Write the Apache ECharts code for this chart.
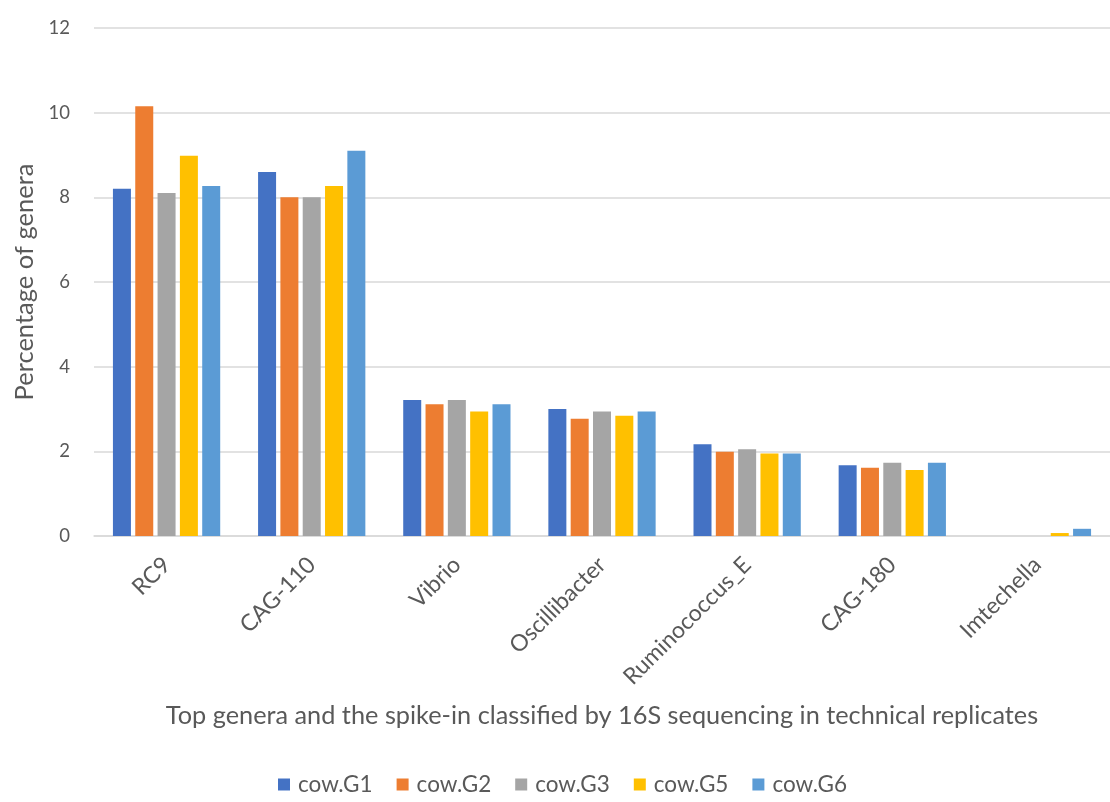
<!DOCTYPE html>
<html>
<head>
<meta charset="utf-8">
<script src="https://cdn.jsdelivr.net/npm/echarts@6/dist/echarts.min.js"></script>
<style>
  html, body { margin: 0; padding: 0; background: #ffffff; }
  #chart { width: 1110px; height: 802px; }
</style>
</head>
<body>
<div id="chart"></div>
<script>
// Genus names along the x axis
const genera = ['RC9', 'CAG-110', 'Vibrio', 'Oscillibacter', 'Ruminococcus_E', 'CAG-180', 'Imtechella'];

// Percentage of genera per technical replicate
const cowG1 = [8.2, 8.6, 3.21, 3.0, 2.17, 1.67, 0];
const cowG2 = [10.15, 8.0, 3.11, 2.77, 1.99, 1.61, 0];
const cowG3 = [8.1, 8.0, 3.21, 2.94, 2.05, 1.73, 0];
const cowG5 = [8.98, 8.27, 2.94, 2.84, 1.95, 1.56, 0.07];
const cowG6 = [8.27, 9.1, 3.11, 2.94, 1.95, 1.73, 0.17];

const seriesNames = ['cow.G1', 'cow.G2', 'cow.G3', 'cow.G5', 'cow.G6'];
const seriesValues = [cowG1, cowG2, cowG3, cowG5, cowG6];
const palette = ['#4472C4', '#ED7D31', '#A5A5A5', '#FFC000', '#5B9BD5'];

const fontFamily = 'Lato, "Open Sans", sans-serif';
const textColor = '#595959';

const chart = echarts.init(document.getElementById('chart'), null, { renderer: 'canvas' });

chart.setOption({
  animation: false,
  color: palette,
  textStyle: { fontFamily: fontFamily },
  grid: { left: 94, right: -7, top: 28, bottom: 266, containLabel: false },
  legend: {
    bottom: 1,
    left: 273,
    itemWidth: 12,
    itemHeight: 12,
    itemGap: 24,
    icon: 'rect',
    textStyle: { color: textColor, fontSize: 22.5, fontFamily: fontFamily, padding: [0, 0, 0, 3] },
    data: seriesNames
  },
  xAxis: {
    type: 'category',
    data: genera,
    name: 'Top genera and the spike-in classified by 16S sequencing in technical replicates',
    nameLocation: 'middle',
    nameGap: 167,
    nameTextStyle: { color: textColor, fontSize: 25.3, fontFamily: fontFamily },
    axisLine: { lineStyle: { color: '#d9d9d9', width: 1.5 } },
    axisTick: { show: false },
    axisLabel: {
      rotate: 45,
      interval: 0,
      color: textColor,
      fontSize: 23,
      margin: 25,
      fontFamily: fontFamily
    }
  },
  yAxis: {
    type: 'value',
    min: 0,
    max: 12,
    interval: 2,
    name: 'Percentage of genera',
    nameLocation: 'middle',
    nameGap: 51,
    nameTextStyle: { color: textColor, fontSize: 25.5, fontFamily: fontFamily },
    axisLine: { show: false },
    axisTick: { show: false },
    axisLabel: { color: textColor, fontSize: 18.5, margin: 24, fontFamily: fontFamily },
    splitLine: { lineStyle: { color: '#d9d9d9', width: 1.5 } }
  },
  series: seriesNames.map((name, i) => ({
    name: name,
    type: 'bar',
    data: seriesValues[i],
    barWidth: 18,
    barGap: '24%',
    barCategoryGap: '27%'
  }))
});
</script>
</body>
</html>
